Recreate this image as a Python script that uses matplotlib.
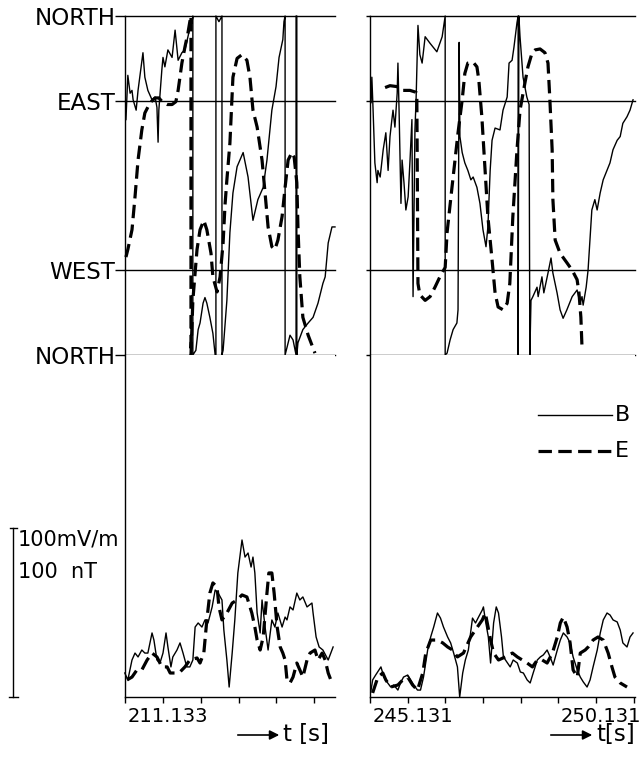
import matplotlib
matplotlib.use("Agg")
import matplotlib.pyplot as plt
from matplotlib.transforms import blended_transform_factory, ScaledTranslation

plt.rcParams['font.family'] = ['DejaVu Sans']

# time origin of the labelled tick in each column [s]
t0_left = 211.133
t0_right = 245.131

# ---- direction of B and E (deg, 0 = NORTH, 90 = WEST, 270 = EAST, 360 = NORTH)
# left column, B
lb_dir_t = [-0.98, -0.93, -0.87, -0.82, -0.79, -0.71, -0.66, -0.53, -0.48, -0.40,
            -0.29, -0.21, -0.16, -0.13, -0.11, -0.03, 0.00, 0.05, 0.13, 0.24,
            0.32, 0.40, 0.50, 0.58, 0.66, 0.71, 0.77, 0.79, 0.79, 0.87,
            0.93, 0.98, 1.06, 1.11, 1.16, 1.24, 1.32, 1.38, 1.40, 1.40,
            1.48, 1.56, 1.56, 1.59, 1.69, 1.77, 1.85, 1.96, 2.12, 2.25,
            2.38, 2.51, 2.65, 2.75, 2.88, 2.99, 3.07, 3.17, 3.20, 3.23,
            3.23, 3.28, 3.36, 3.44, 3.52, 3.52, 3.54, 3.54, 3.57, 3.70,
            3.84, 3.97, 4.10, 4.23, 4.29, 4.37, 4.47, 4.55]
lb_dir = [250, 297, 278, 281, 271, 260, 281, 321, 295, 281,
          271, 274, 263, 226, 260, 303, 316, 306, 324, 316,
          345, 313, 321, 324, 338, 347, 354, 360, 0, 5,
          27, 34, 55, 61, 55, 40, 23, 0, 0, 360,
          354, 360, 0, 5, 58, 130, 172, 200, 215, 189,
          143, 165, 178, 207, 260, 285, 316, 335, 354, 360,
          0, 8, 21, 16, 0, 360, 360, 0, 13, 27,
          34, 40, 55, 76, 83, 119, 136, 136]

# left column, E
le_dir_t = [-0.98, -0.93, -0.82, -0.74, -0.66, -0.56, -0.48, -0.34, -0.21, -0.11,
            0.00, 0.11, 0.24, 0.34, 0.40, 0.50, 0.58, 0.66, 0.71, 0.74,
            0.74, 0.79, 0.90, 0.98, 1.08, 1.16, 1.27, 1.32, 1.43, 1.51,
            1.59, 1.64, 1.69, 1.77, 1.85, 1.96, 2.09, 2.22, 2.30, 2.38,
            2.49, 2.62, 2.70, 2.78, 2.88, 2.96, 3.04, 3.15, 3.23, 3.31,
            3.41, 3.47, 3.54, 3.57, 3.62, 3.70, 3.84, 4.02]
le_dir = [104, 112, 133, 168, 207, 239, 257, 268, 273, 273,
          268, 266, 266, 269, 281, 310, 327, 342, 354, 360,
          0, 58, 112, 133, 143, 133, 108, 83, 67, 83,
          119, 159, 186, 225, 295, 315, 319, 313, 295, 260,
          242, 207, 172, 136, 115, 112, 122, 147, 178, 207,
          215, 210, 183, 136, 83, 40, 21, 2]

# right column, B
rb_dir_t = [-0.95, -0.93, -0.90, -0.85, -0.79, -0.77, -0.71, -0.63, -0.56, -0.50,
            -0.45, -0.40, -0.37, -0.32, -0.26, -0.24, -0.21, -0.16, -0.13, -0.08,
            -0.03, 0.03, 0.08, 0.13, 0.16, 0.21, 0.24, 0.29, 0.34, 0.40,
            0.48, 0.61, 0.79, 0.93, 1.01, 1.01, 1.06, 1.14, 1.22, 1.32,
            1.35, 1.38, 1.40, 1.46, 1.53, 1.61, 1.69, 1.75, 1.85, 1.93,
            2.01, 2.09, 2.14, 2.20, 2.25, 2.33, 2.46, 2.54, 2.65, 2.70,
            2.78, 2.83, 2.91, 2.94, 2.94, 2.96, 2.99, 3.07, 3.17, 3.23,
            3.25, 3.28, 3.33, 3.44, 3.47, 3.57, 3.62, 3.73, 3.81, 3.86,
            3.97, 4.05, 4.13, 4.23, 4.37, 4.50, 4.58, 4.63, 4.66, 4.74,
            4.79, 4.89, 4.97, 5.03, 5.11, 5.19, 5.29, 5.37, 5.45, 5.56,
            5.64, 5.71, 5.82, 5.90, 5.98]
rb_dir = [268, 295, 263, 204, 183, 196, 189, 218, 236, 196,
          232, 250, 260, 242, 278, 310, 260, 161, 207, 183,
          154, 168, 207, 250, 62, 239, 271, 350, 319, 310,
          338, 331, 322, 338, 360, 0, 2, 16, 27, 34,
          48, 332, 232, 215, 204, 196, 186, 189, 178, 161,
          133, 115, 136, 196, 228, 241, 239, 260, 274, 310,
          313, 327, 353, 360, 0, 360, 338, 295, 274, 266,
          0, 58, 62, 72, 62, 83, 66, 87, 103, 87,
          66, 48, 39, 48, 62, 69, 55, 62, 53, 72,
          90, 154, 165, 154, 172, 186, 196, 204, 218, 228,
          232, 246, 253, 260, 271]

# right column, E
re_dir_t = [-0.58, -0.45, -0.26, -0.13, 0.08, 0.24, 0.26, 0.29, 0.34, 0.48,
            0.61, 0.74, 0.87, 1.01, 1.06, 1.19, 1.27, 1.35, 1.46, 1.53,
            1.61, 1.75, 1.85, 1.90, 1.98, 2.06, 2.14, 2.25, 2.33, 2.41,
            2.54, 2.65, 2.72, 2.80, 2.91, 2.99, 3.12, 3.20, 3.31, 3.39,
            3.52, 3.65, 3.73, 3.78, 3.84, 3.86, 3.92, 4.05, 4.23, 4.37,
            4.50, 4.55, 4.60, 4.63]
re_dir = [284, 286, 285, 281, 281, 279, 274, 76, 64, 58,
          62, 72, 83, 93, 130, 178, 207, 236, 271, 299,
          310, 311, 306, 292, 253, 200, 147, 101, 66, 51,
          48, 55, 76, 147, 218, 260, 289, 306, 321, 324,
          325, 321, 310, 271, 218, 165, 122, 108, 98, 90,
          80, 66, 40, 8]

# ---- amplitudes (mV/m for E, nT for B)
lb_amp_t = [-1.01, -0.93, -0.82, -0.74, -0.66, -0.56, -0.48, -0.40, -0.29, -0.24,
            -0.16, -0.08, 0.00, 0.08, 0.13, 0.21, 0.26, 0.37, 0.45, 0.53,
            0.63, 0.71, 0.79, 0.85, 0.93, 1.03, 1.11, 1.19, 1.30, 1.38,
            1.46, 1.56, 1.61, 1.69, 1.75, 1.83, 1.90, 1.98, 2.09, 2.17,
            2.25, 2.33, 2.38, 2.43, 2.49, 2.57, 2.62, 2.70, 2.78, 2.88,
            2.96, 3.04, 3.15, 3.23, 3.28, 3.36, 3.44, 3.54, 3.62, 3.70,
            3.81, 3.94, 3.97, 4.05, 4.13, 4.23, 4.37, 4.50]
lb_amp = [14.2, 10.1, 21.9, 26.0, 23.7, 27.8, 26.0, 26.0, 37.9, 33.7,
          21.9, 20.1, 26.0, 37.9, 29.6, 17.8, 23.7, 27.8, 32.0, 26.0,
          17.8, 17.8, 21.9, 41.4, 43.8, 41.4, 45.6, 43.8, 53.3, 63.3,
          61.5, 57.4, 39.6, 21.9, 5.9, 26.0, 45.6, 73.4, 92.9, 82.8,
          85.2, 76.9, 82.8, 73.4, 49.7, 37.9, 57.4, 41.4, 27.8, 45.6,
          41.4, 49.7, 41.4, 47.3, 45.6, 53.3, 51.5, 61.5, 57.4, 59.2,
          53.3, 55.6, 49.7, 35.5, 29.6, 27.8, 21.9, 29.6]

le_amp_t = [-0.95, -0.82, -0.69, -0.56, -0.42, -0.29, -0.16, -0.03, 0.11, 0.19,
            0.32, 0.45, 0.58, 0.71, 0.90, 0.98, 1.08, 1.16, 1.24, 1.32,
            1.43, 1.48, 1.56, 1.69, 1.83, 1.96, 2.09, 2.22, 2.35, 2.43,
            2.49, 2.57, 2.65, 2.75, 2.80, 2.88, 2.94, 3.02, 3.10, 3.17,
            3.23, 3.28, 3.36, 3.44, 3.54, 3.62, 3.70, 3.81, 3.89, 4.02,
            4.10, 4.21, 4.29, 4.37, 4.47]
le_amp = [10.1, 11.8, 16.0, 16.0, 21.9, 26.0, 23.7, 17.8, 17.8, 14.2,
          14.2, 14.8, 17.8, 21.9, 23.1, 20.1, 26.0, 45.6, 61.5, 67.5,
          65.1, 53.3, 45.6, 49.7, 55.6, 57.4, 60.4, 59.2, 49.7, 41.4,
          33.7, 27.8, 35.5, 61.5, 73.4, 73.4, 61.5, 41.4, 29.6, 26.0,
          21.9, 10.1, 8.3, 11.8, 20.1, 16.0, 11.8, 21.9, 26.0, 27.8,
          21.9, 26.0, 21.9, 14.2, 8.3]

rb_amp_t = [-0.98, -0.93, -0.85, -0.71, -0.63, -0.53, -0.45, -0.37, -0.26, -0.19,
            -0.11, 0.00, 0.08, 0.16, 0.26, 0.34, 0.42, 0.53, 0.61, 0.69,
            0.79, 0.87, 0.95, 1.06, 1.14, 1.22, 1.32, 1.38, 1.46, 1.53,
            1.61, 1.72, 1.80, 1.88, 1.98, 2.01, 2.06, 2.14, 2.20, 2.28,
            2.35, 2.41, 2.49, 2.54, 2.65, 2.72, 2.80, 2.91, 2.99, 3.07,
            3.17, 3.25, 3.33, 3.44, 3.52, 3.60, 3.70, 3.78, 3.86, 3.97,
            4.05, 4.13, 4.23, 4.31, 4.39, 4.50, 4.58, 4.66, 4.76, 4.84,
            4.92, 5.03, 5.11, 5.19, 5.29, 5.37, 5.45, 5.56, 5.64, 5.71,
            5.82, 5.90, 5.98]
rb_amp = [3.0, 10.1, 13.0, 17.8, 11.8, 8.3, 5.9, 7.1, 4.1, 8.3,
          11.8, 13.0, 10.1, 7.1, 4.1, 4.1, 11.8, 27.8, 35.5, 41.4,
          49.7, 46.7, 41.4, 35.5, 32.0, 26.0, 17.8, 0.0, 14.2, 21.9,
          27.8, 46.7, 43.8, 47.3, 51.5, 53.3, 45.6, 35.5, 20.1, 43.8,
          53.3, 49.7, 35.5, 23.7, 20.1, 17.8, 21.9, 20.1, 14.8, 14.2,
          10.1, 8.3, 14.2, 21.9, 23.7, 24.9, 27.8, 23.7, 18.9, 27.8,
          33.7, 37.9, 35.5, 32.0, 23.7, 16.0, 11.8, 8.9, 5.9, 10.1,
          17.8, 27.8, 37.9, 45.6, 49.7, 48.5, 45.6, 44.4, 39.6, 32.0,
          29.6, 35.5, 37.9]

re_amp_t = [-0.93, -0.79, -0.66, -0.58, -0.45, -0.26, -0.13, 0.00, 0.13, 0.26,
            0.40, 0.48, 0.61, 0.79, 0.93, 1.06, 1.19, 1.32, 1.48, 1.67,
            1.85, 1.98, 2.06, 2.20, 2.28, 2.41, 2.59, 2.78, 2.91, 3.04,
            3.17, 3.31, 3.44, 3.57, 3.70, 3.84, 3.97, 4.05, 4.13, 4.23,
            4.31, 4.39, 4.50, 4.58, 4.71, 4.79, 4.92, 5.05, 5.19, 5.32,
            5.42, 5.50, 5.64, 5.82]
re_amp = [2.4, 11.8, 14.2, 10.1, 5.9, 7.1, 10.1, 11.8, 7.1, 4.1,
          14.2, 26.0, 33.7, 33.7, 32.0, 29.6, 27.8, 23.7, 26.0, 35.5,
          41.4, 45.6, 49.7, 33.7, 26.0, 21.9, 23.7, 26.0, 23.7, 21.9,
          20.1, 17.8, 21.9, 21.9, 20.1, 26.0, 35.5, 43.8, 47.3, 41.4,
          32.0, 16.0, 11.8, 26.0, 27.8, 29.6, 33.7, 35.5, 33.7, 26.0,
          17.8, 11.8, 8.3, 5.9]

dir_ticks = [0, 90, 270, 360]
dir_labels = ["NORTH", "WEST", "EAST", "NORTH"]

W, H = 643, 758
fig = plt.figure(figsize=(W / 100, H / 100), dpi=100)


def px_axes(x0, x1, y0, y1):
    return fig.add_axes([x0 / W, (H - y1) / H, (x1 - x0) / W, (y1 - y0) / H])


solid = dict(color="k", lw=1.0, clip_on=False)
dashed = dict(color="k", lw=2.3, dashes=(4.2, 2.0), clip_on=False)

columns = [
    (125, 335, (-1.005, 4.55), t0_left, [0], True,
     lb_dir_t, lb_dir, le_dir_t, le_dir, lb_amp_t, lb_amp, le_amp_t, le_amp),
    (370, 635, (-0.979, 6.032), t0_right, [0, 5], False,
     rb_dir_t, rb_dir, re_dir_t, re_dir, rb_amp_t, rb_amp, re_amp_t, re_amp),
]

shift = ScaledTranslation(5 / 100, 0, fig.dpi_scale_trans)

bottom_axes = []
for (x0, x1, xlim, t0, labelled, first,
     bdt, bd, edt, ed, bat, ba, eat, ea) in columns:
    # direction panel
    ax = px_axes(x0, x1, 16, 355)
    ax.set_xlim(*xlim)
    ax.set_ylim(0, 360)
    for s in ["top", "right", "bottom"]:
        ax.spines[s].set_visible(False)
    ax.spines["left"].set_linewidth(1.0)
    ax.set_xticks([])
    ax.set_yticks(dir_ticks)
    if first:
        ax.set_yticklabels(dir_labels)
        ax.tick_params(axis="y", length=7, width=1.0, pad=0, labelsize=16.6)
    else:
        ax.set_yticklabels([])
        ax.tick_params(axis="y", length=3, width=1.0)
    for v in dir_ticks:
        ax.axhline(v, color="k", lw=1.0, clip_on=False)
    ax.plot(bdt, bd, **solid)
    ax.plot(edt, ed, **dashed)

    # amplitude panel
    ax2 = px_axes(x0, x1, 355, 697)
    ax2.set_xlim(*xlim)
    ax2.set_ylim(0, 342 / 169 * 100)
    for s in ["top", "right"]:
        ax2.spines[s].set_visible(False)
    ax2.spines["left"].set_linewidth(1.0)
    ax2.spines["bottom"].set_linewidth(1.0)
    ax2.set_yticks([])
    ticks = list(range(-1, int(xlim[1]) + 1))
    ax2.set_xticks(ticks)
    ax2.set_xticklabels(["%.3f" % (t0 + t) if t in labelled else "" for t in ticks])
    ax2.tick_params(axis="x", length=4, width=1.0, pad=3, labelsize=14)
    for lab in ax2.get_xticklabels():
        lab.set_transform(lab.get_transform() + shift)
    ax2.plot(bat, ba, **solid)
    ax2.plot(eat, ea, **dashed)
    bottom_axes.append(ax2)

# scale bar 100 mV/m / 100 nT
axl = bottom_axes[0]
tr = blended_transform_factory(fig.transFigure, axl.transData)
axl.plot([13 / W, 13 / W], [0, 100], color="k", lw=1.0, transform=tr, clip_on=False)
axl.plot([9 / W, 18 / W], [0, 0], color="k", lw=1.0, transform=tr, clip_on=False)
axl.plot([10 / W, 17 / W], [100, 100], color="k", lw=1.0, transform=tr, clip_on=False)
axl.text(18 / W, 93, "100mV/m", transform=tr, fontsize=15, va="center", ha="left")
axl.text(18 / W, 74, "100  nT", transform=tr, fontsize=15, va="center", ha="left")

# legend
axr = bottom_axes[1]
axr.plot([0.634, 0.913], [0.825, 0.825], transform=axr.transAxes, **solid)
axr.plot([0.634, 0.913], [0.719, 0.719], transform=axr.transAxes, **dashed)
axr.text(0.925, 0.825, "B", transform=axr.transAxes, fontsize=16, va="center")
axr.text(0.925, 0.719, "E", transform=axr.transAxes, fontsize=16, va="center")

# time arrows
for xa, xb, label in [(235, 282, "t [s]"), (548, 595, "t[s]")]:
    fig.add_artist(matplotlib.patches.FancyArrowPatch(
        (xa / W, 23 / H), (xb / W, 23 / H), transform=fig.transFigure,
        arrowstyle="-|>", mutation_scale=14, color="k", lw=1.2))
    fig.text((xb + 1) / W, 23 / H, label, fontsize=16.5, va="center", ha="left")

fig.savefig("out.png", dpi=100, facecolor="white")
